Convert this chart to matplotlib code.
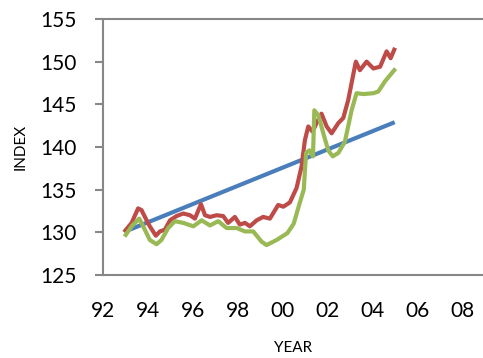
import numpy as np
import matplotlib
matplotlib.use("Agg")
import matplotlib.pyplot as plt

# trend line (blue)
trend_years = [93.0, 105.0]
trend_index = [130.1, 142.9]

# red series
red_years = [93.0, 93.28, 93.57, 93.72, 93.95, 94.09, 94.36, 94.54, 94.76, 94.99,
             95.28, 95.58, 95.88, 96.1, 96.37, 96.55, 96.77, 97.07, 97.36, 97.58,
             97.88, 98.1, 98.33, 98.55, 98.85, 99.14, 99.44, 99.81, 100.04, 100.33,
             100.63, 100.85, 101.0, 101.15, 101.34, 101.52, 101.74, 101.97, 102.19, 102.49,
             102.71, 102.93, 103.08, 103.27, 103.45, 103.75, 104.05, 104.35, 104.64, 104.82,
             104.98]
red_index = [130.2, 131.1, 132.8, 132.6, 131.4, 130.7, 129.6, 130.1, 130.3, 131.4,
             131.9, 132.2, 132.0, 131.6, 133.3, 132.0, 131.8, 132.0, 131.9, 131.1,
             131.8, 130.9, 131.1, 130.7, 131.4, 131.8, 131.6, 133.2, 133.0, 133.5,
             135.2, 137.7, 140.8, 142.4, 141.8, 142.8, 143.9, 142.4, 141.6, 142.8,
             143.4, 145.5, 147.5, 150.0, 149.0, 150.0, 149.2, 149.4, 151.2, 150.4,
             151.4]

# green series
green_years = [93.02, 93.28, 93.62, 93.87, 94.09, 94.39, 94.61, 94.91, 95.21, 95.58,
               96.03, 96.4, 96.77, 97.14, 97.51, 97.96, 98.33, 98.7, 99.07, 99.29,
               99.74, 100.22, 100.5, 100.72, 100.95, 101.05, 101.2, 101.36, 101.42, 101.6,
               101.82, 102.04, 102.24, 102.49, 102.78, 103.08, 103.3, 103.6, 104.05, 104.27,
               104.57, 104.98]
green_index = [129.7, 130.7, 131.6, 130.3, 129.1, 128.6, 129.1, 130.5, 131.3, 131.1,
               130.7, 131.4, 130.8, 131.3, 130.5, 130.5, 130.1, 130.1, 128.9, 128.5,
               129.1, 129.9, 131.0, 133.0, 135.0, 139.3, 139.6, 138.9, 144.3, 143.7,
               141.6, 139.6, 138.9, 139.3, 140.6, 144.3, 146.3, 146.2, 146.3, 146.5,
               147.7, 149.0]

x_ticks = list(range(92, 110, 2))
x_labels = ["%02d" % (y % 100) for y in x_ticks]

plt.rcParams['font.family'] = ['Lato', 'DejaVu Sans']

fig = plt.figure(figsize=(4.83, 3.58), dpi=100)
ax = fig.add_axes([0.213, 0.232, 0.787, 0.715])

ax.plot(trend_years, trend_index, color='#4a7ebb', lw=3.0, solid_capstyle='butt')
ax.plot(red_years, red_index, color='#be4b48', lw=3.0, solid_joinstyle='round')
ax.plot(green_years, green_index, color='#98b954', lw=3.0, solid_joinstyle='round')

ax.set_xlim(92, 92 + 380 / 22.44)
ax.set_ylim(125, 155)

spine_col = '#878787'
for s in ['left', 'bottom', 'top']:
    ax.spines[s].set_color(spine_col)
    ax.spines[s].set_linewidth(1.5)
ax.spines['right'].set_visible(False)

ax.set_yticks(range(125, 156, 5))
ax.tick_params(axis='y', direction='out', length=6, width=1.5, color=spine_col,
               labelsize=15, pad=13)

ax.set_xticks(x_ticks)
ax.set_xticklabels(x_labels)
ax.tick_params(axis='x', which='major', length=0, labelsize=15, pad=19)
ax.set_xticks([92, 96, 100, 104, 108], minor=True)
ax.tick_params(axis='x', which='minor', direction='out', length=6, width=1.5,
               color=spine_col)

ax.set_xlabel('YEAR', fontsize=11, labelpad=14)
ax.set_ylabel('INDEX', fontsize=11, labelpad=9)

fig.savefig('out.png', dpi=100)
